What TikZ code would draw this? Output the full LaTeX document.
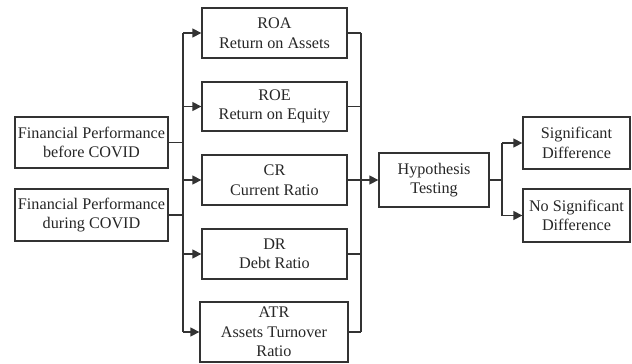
\documentclass[tikz,border=0pt]{standalone}
\usepackage{fontspec}
\setmainfont{Liberation Serif}
\usetikzlibrary{arrows.meta}
\begin{document}
\begin{tikzpicture}[x=1pt,y=-1pt,
  box/.style={draw=black!80, line width=1.3pt, align=center, inner sep=0pt,
    font=\fontsize{16.2}{19.5}\selectfont, text=black!85},
  link/.style={draw=black!80, line width=1.3pt},
  arr/.style={link, -{Triangle[length=9pt,width=9pt]}}]
\useasboundingbox (0,0) rectangle (632,364);
\node[box, minimum width=153pt, minimum height=51pt] (b1) at (91.5,142.5) {Financial Performance\\before COVID};
\node[box, minimum width=153pt, minimum height=52pt] (b2) at (91.5,215) {Financial Performance\\during COVID};
\node[box, minimum width=145pt, minimum height=50pt] (roa) at (274.5,33) {ROA\\Return on Assets};
\node[box, minimum width=145pt, minimum height=49pt] (roe) at (274.5,106.5) {ROE\\Return on Equity};
\node[box, minimum width=145pt, minimum height=50pt] (cr) at (274.5,180) {CR\\Current Ratio};
\node[box, minimum width=145pt, minimum height=50pt] (dr) at (274.5,254) {DR\\Debt Ratio};
\node[box, minimum width=148pt, minimum height=60pt] (atr) at (274,332) {ATR\\Assets Turnover\\Ratio};
\node[box, minimum width=110pt, minimum height=54pt] (hyp) at (434,180) {Hypothesis\\Testing};
\node[box, minimum width=107pt, minimum height=52pt] (sig) at (576.5,143) {Significant\\Difference};
\node[box, minimum width=107pt, minimum height=53pt] (nosig) at (576.5,215.5) {No Significant\\Difference};
\coordinate (lt) at (183,0);
\coordinate (rt) at (361,0);
\coordinate (sp) at (502,0);
% left fan
\draw[link] (b1.east) -- (b1.east -| lt);
\draw[link] (b2.east) -- (b2.east -| lt);
\draw[link] (roa.west -| lt) -- (atr.west -| lt);
\foreach \n in {roa,roe,cr,dr,atr}
  \draw[arr] (\n.west -| lt) -- (\n.west);
% right collect
\foreach \n in {roa,roe,cr,dr,atr}
  \draw[link] (\n.east) -- (\n.east -| rt);
\draw[link] (roa.east -| rt) -- (atr.east -| rt);
\draw[arr] (hyp.west -| rt) -- (hyp.west);
% split
\draw[link] (hyp.east) -- (hyp.east -| sp);
\draw[link] (sig.west -| sp) -- (nosig.west -| sp);
\draw[arr] (sig.west -| sp) -- (sig.west);
\draw[arr] (nosig.west -| sp) -- (nosig.west);
\end{tikzpicture}
\end{document}
